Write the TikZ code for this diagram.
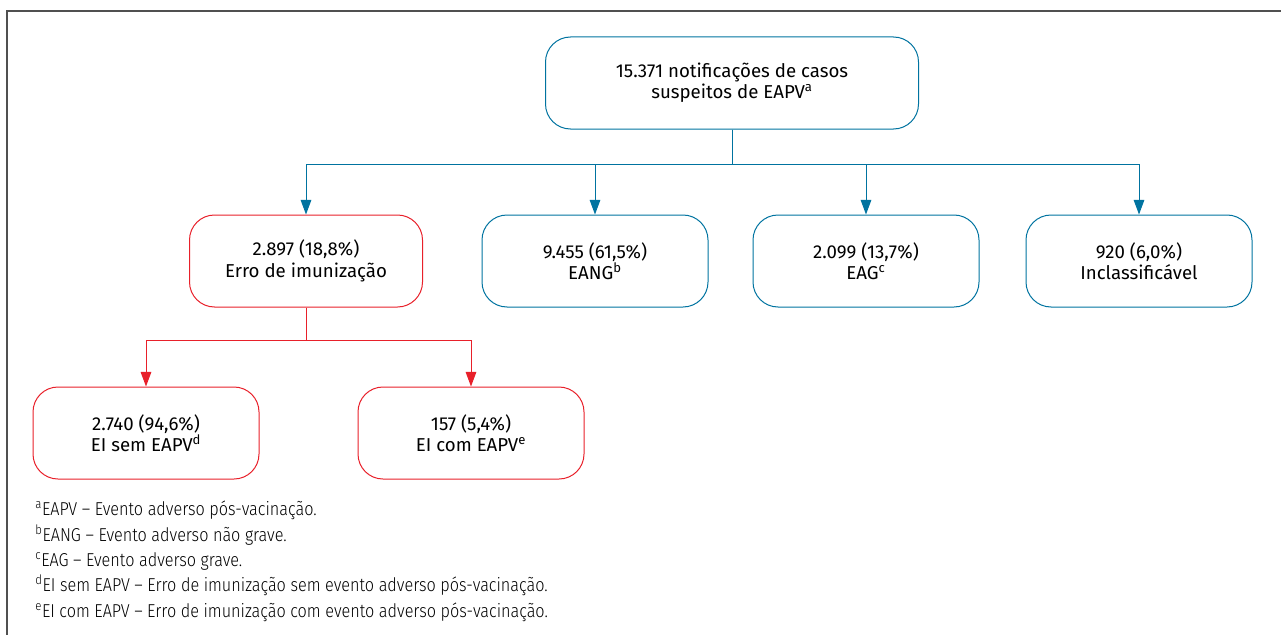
\documentclass[tikz,border=0pt]{standalone}
\usepackage{fontspec}
\setmainfont{Fira Sans}
\newfontfamily\notefont{Fira Sans Light}[FakeStretch=0.87]
\usetikzlibrary{arrows.meta, positioning}
\definecolor{boxblue}{RGB}{0,115,160}
\definecolor{boxred}{RGB}{232,32,42}
\definecolor{framegray}{RGB}{80,80,80}

\begin{document}
\begin{tikzpicture}[x=0.75pt, y=-0.75pt,
    box/.style={draw, rounded corners=18.75pt, minimum width=169.5pt, minimum height=69pt,
        align=center, inner sep=0pt, line width=0.75pt,
        font=\fontsize{14}{16}\selectfont},
    bluebox/.style={box, draw=boxblue},
    redbox/.style={box, draw=boxred},
    bluearrow/.style={boxblue, line width=0.75pt, -{Triangle[length=11pt, width=8pt]}},
    redarrow/.style={boxred, line width=0.75pt, -{Triangle[length=11pt, width=8pt]}},
    note/.style={anchor=base west, inner sep=0pt, font=\notefont\fontsize{14}{16}\selectfont}
]
    \useasboundingbox (0,0) rectangle (1281,635);

    % Frame
    \draw[framegray, line width=1.5pt] (7,635) -- (7,11) -- (1281,11);

    % Top box
    \node[bluebox, minimum width=279.75pt] (total) at (732,83)
        {15.371 notificações de casos\\suspeitos de EAPV\textsuperscript{a}};

    % Second level
    \node[redbox, minimum width=174.75pt] (erro) at (306,261) {2.897 (18,8\%)\\Erro de imunização};
    \node[bluebox] (eang) at (595,261) {9.455 (61,5\%)\\EANG\textsuperscript{b}};
    \node[bluebox] (eag) at (866,261) {2.099 (13,7\%)\\EAG\textsuperscript{c}};
    \node[bluebox] (incl) at (1139,261) {920 (6,0\%)\\Inclassificável};

    % Third level
    \node[redbox] (sem) at (146,433) {2.740 (94,6\%)\\EI sem EAPV\textsuperscript{d}};
    \node[redbox] (com) at (471,433) {157 (5,4\%)\\EI com EAPV\textsuperscript{e}};

    % Blue connectors
    \draw[bluearrow] (total.south) -- ++(0,35) -| (erro.north);
    \draw[bluearrow] (total.south) -- ++(0,35) -| (eang.north);
    \draw[bluearrow] (total.south) -- ++(0,35) -| (eag.north);
    \draw[bluearrow] (total.south) -- ++(0,35) -| (incl.north);

    % Red connectors
    \draw[redarrow] (erro.south) -- ++(0,33) -| (sem.north);
    \draw[redarrow] (erro.south) -- ++(0,33) -| (com.north);

    % Footnotes
    \node[note] (nota) at (35,515) {\textsuperscript{a}EAPV – Evento adverso pós-vacinação.};
    \node[note] (notb) at (35,541) {\textsuperscript{b}EANG – Evento adverso não grave.};
    \node[note] (notc) at (35,566) {\textsuperscript{c}EAG – Evento adverso grave.};
    \node[note] (notd) at (35,591) {\textsuperscript{d}EI sem EAPV – Erro de imunização sem evento adverso pós-vacinação.};
    \node[note] (note) at (35,617) {\textsuperscript{e}EI com EAPV – Erro de imunização com evento adverso pós-vacinação.};
\end{tikzpicture}
\end{document}
